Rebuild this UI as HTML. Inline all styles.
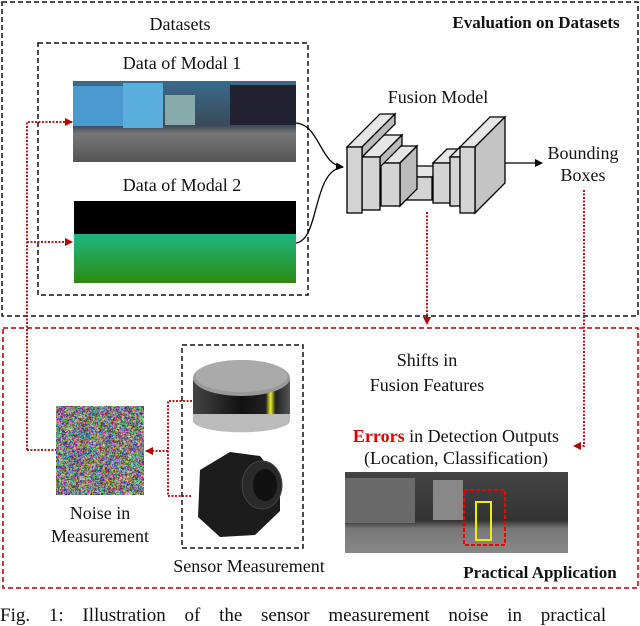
<!DOCTYPE html>
<html><head><meta charset="utf-8"><style>
html,body{margin:0;padding:0;background:#fff;}
body{width:640px;height:616px;overflow:hidden;position:relative;font-family:"Liberation Serif",serif;}
.t{position:absolute;white-space:nowrap;color:#111;font-size:18px;transform:translateX(-50%);line-height:1;}
.b{font-weight:bold;font-size:17px;}
</style></head><body>
<svg width="640" height="616" style="position:absolute;left:0;top:0">
<defs>
<linearGradient id="g1" x1="0" y1="0" x2="0" y2="1"><stop offset="0" stop-color="#3a6a8a"/><stop offset="0.55" stop-color="#3a4a5a"/><stop offset="0.65" stop-color="#777"/><stop offset="1" stop-color="#555"/></linearGradient>
<linearGradient id="g2" x1="0" y1="0" x2="0" y2="1"><stop offset="0" stop-color="#1fb8c8"/><stop offset="0.5" stop-color="#22b070"/><stop offset="1" stop-color="#2a8a10"/></linearGradient>
<linearGradient id="g3" x1="0" y1="0" x2="0" y2="1"><stop offset="0" stop-color="#444"/><stop offset="0.6" stop-color="#333"/><stop offset="0.7" stop-color="#777"/><stop offset="1" stop-color="#888"/></linearGradient>
<linearGradient id="lid" x1="0" y1="0" x2="1" y2="0"><stop offset="0" stop-color="#444"/><stop offset="0.5" stop-color="#111"/><stop offset="0.75" stop-color="#222"/><stop offset="0.8" stop-color="#ee2"/><stop offset="0.85" stop-color="#222"/><stop offset="1" stop-color="#555"/></linearGradient>
<marker id="ar" markerWidth="8" markerHeight="8" refX="7" refY="4" orient="auto" markerUnits="userSpaceOnUse"><path d="M0,0 L8,4 L0,8 z" fill="#b00000"/></marker>
<marker id="ak" markerWidth="8" markerHeight="8" refX="7" refY="4" orient="auto" markerUnits="userSpaceOnUse"><path d="M0,0 L8,4 L0,8 z" fill="#000"/></marker>
</defs>
<rect x="2" y="2" width="636" height="314" fill="none" stroke="#111" stroke-width="1.5" stroke-dasharray="5,3"/>
<rect x="38" y="43" width="270" height="252" fill="none" stroke="#111" stroke-width="1.5" stroke-dasharray="5,3"/>
<rect x="73" y="81" width="223" height="81" fill="url(#g1)"/>
<rect x="73" y="86" width="50" height="40" fill="#4a9ad0"/>
<rect x="123" y="83" width="40" height="45" fill="#5aaedc"/>
<rect x="165" y="95" width="30" height="30" fill="#8aa"/>
<rect x="230" y="85" width="66" height="40" fill="#223"/>
<rect x="74" y="201" width="222" height="82" fill="url(#g2)"/>
<rect x="74" y="201" width="222" height="33" fill="#000"/>
<path d="M296,123 C320,125 320,165 343,167" fill="none" stroke="#000" stroke-width="1.3" marker-end="url(#ak)"/>
<path d="M296,243 C320,240 312,170 343,167" fill="none" stroke="#000" stroke-width="1.3"/>
<g stroke="#000" stroke-width="1.3" fill="#d4d4d4">
<path d="M403,177 l11,-11 h29 l-11,11z" fill="#e6e6e6"/><rect x="403" y="177" width="29" height="23"/>
<path d="M433,163 l14,-14 h17 l-14,14z" fill="#e6e6e6"/><path d="M450,163 l14,-14 v40 l-14,14z" fill="#bbb"/><rect x="433" y="163" width="17" height="40"/>
<path d="M450,157 l9,-9 h10 l-9,9z" fill="#e6e6e6"/><path d="M460,157 l9,-9 v49 l-9,9z" fill="#bbb"/><rect x="450" y="157" width="10" height="49"/>
<path d="M460,147 l30,-30 h15 l-30,30z" fill="#e6e6e6"/><path d="M475,147 l30,-30 v66 l-30,30z" fill="#c4c4c4"/><rect x="460" y="147" width="15" height="66"/>
<path d="M381,163 l17,-17 h19 l-17,17z" fill="#e6e6e6"/><path d="M400,163 l17,-17 v43 l-17,17z" fill="#bbb"/><rect x="381" y="163" width="19" height="43"/>
<path d="M362,157 l22,-22 h18 l-22,22z" fill="#e6e6e6"/><path d="M380,157 l22,-22 v10 l-22,22z" fill="#bbb"/><rect x="362" y="157" width="18" height="53"/>
<path d="M347,147 l33,-33 h15 l-33,33z" fill="#e6e6e6"/><path d="M362,147 l33,-33 v10 l-33,33z" fill="#bbb"/><rect x="347" y="147" width="15" height="66"/>
</g>
<line x1="505" y1="163" x2="542" y2="163" stroke="#000" stroke-width="1.3" marker-end="url(#ak)"/>
<rect x="3" y="328" width="635" height="260" fill="none" stroke="#b00000" stroke-width="1.5" stroke-dasharray="5,3"/>
<g fill="none" stroke="#b00000" stroke-width="1.8" stroke-dasharray="2,1.5">
<path d="M27,450 V122 H72" marker-end="url(#ar)"/>
<path d="M27,242 H72" marker-end="url(#ar)"/>
<path d="M27,450 H56"/>
<path d="M427,212 V324" marker-end="url(#ar)"/>
<path d="M584,190 V446 H574" marker-end="url(#ar)"/>
<path d="M192,401 H168 V496 H192"/>
<path d="M168,451 H146" marker-end="url(#ar)"/>
</g>
<rect x="182" y="345" width="121" height="203" fill="none" stroke="#111" stroke-width="1.5" stroke-dasharray="5,3"/>
<path d="M193,378 v44 a49,12 0 0 0 97,0 v-44z" fill="#bbb"/>
<rect x="193" y="380" width="97" height="34" fill="url(#lid)"/>
<ellipse cx="241.5" cy="378" rx="48.5" ry="18" fill="#999"/>
<ellipse cx="241.5" cy="376" rx="46" ry="16" fill="#aaa"/>
<path d="M200,470 l30,-18 l30,4 l20,25 v30 l-25,24 l-35,2 l-22,-20z" fill="#1c1c1c"/>
<ellipse cx="262" cy="485" rx="20" ry="24" fill="#2a2a2a" stroke="#444"/>
<ellipse cx="265" cy="485" rx="12" ry="16" fill="#111"/>
<rect x="345" y="472" width="223" height="81" fill="url(#g3)"/>
<rect x="345" y="478" width="70" height="45" fill="#6a6a6a"/>
<rect x="433" y="480" width="30" height="40" fill="#888"/>
<rect x="464" y="490" width="41" height="55" fill="none" stroke="#e00" stroke-width="2" stroke-dasharray="4,2"/>
<rect x="476" y="502" width="15" height="38" fill="none" stroke="#ee0" stroke-width="2"/>
</svg>
<canvas id="nz" width="88" height="89" style="position:absolute;left:56px;top:406px"></canvas>
<div class="t" style="left:180px;top:15px">Datasets</div>
<div class="t" style="left:182px;top:54px">Data of Modal 1</div>
<div class="t" style="left:182px;top:176px">Data of Modal 2</div>
<div class="t" style="left:438px;top:88px">Fusion Model</div>
<div class="t" style="left:583px;top:144px">Bounding</div>
<div class="t" style="left:583px;top:166px">Boxes</div>
<div class="t b" style="left:536px;top:14px">Evaluation on Datasets</div>
<div class="t" style="left:427px;top:351px">Shifts in</div>
<div class="t" style="left:427px;top:376px">Fusion Features</div>
<div class="t" style="left:456px;top:427px"><span style="color:#e00000;font-weight:bold">Errors</span> in Detection Outputs</div>
<div class="t" style="left:456px;top:449px">(Location, Classification)</div>
<div class="t" style="left:100px;top:504px">Noise in</div>
<div class="t" style="left:100px;top:527px">Measurement</div>
<div class="t" style="left:249px;top:557px">Sensor Measurement</div>
<div class="t b" style="left:540px;top:564px">Practical Application</div>
<div style="position:absolute;left:0;top:606px;font-size:19px;white-space:nowrap;word-spacing:14px;color:#111;line-height:1">Fig. 1: Illustration of the sensor measurement noise in practical</div>
<script>
var c=document.getElementById('nz').getContext('2d');
var d=c.createImageData(88,89);
for(var i=0;i<d.data.length;i+=4){d.data[i]=Math.random()*255;d.data[i+1]=Math.random()*255;d.data[i+2]=Math.random()*255;d.data[i+3]=255;}
c.putImageData(d,0,0);
</script>
</body></html>
